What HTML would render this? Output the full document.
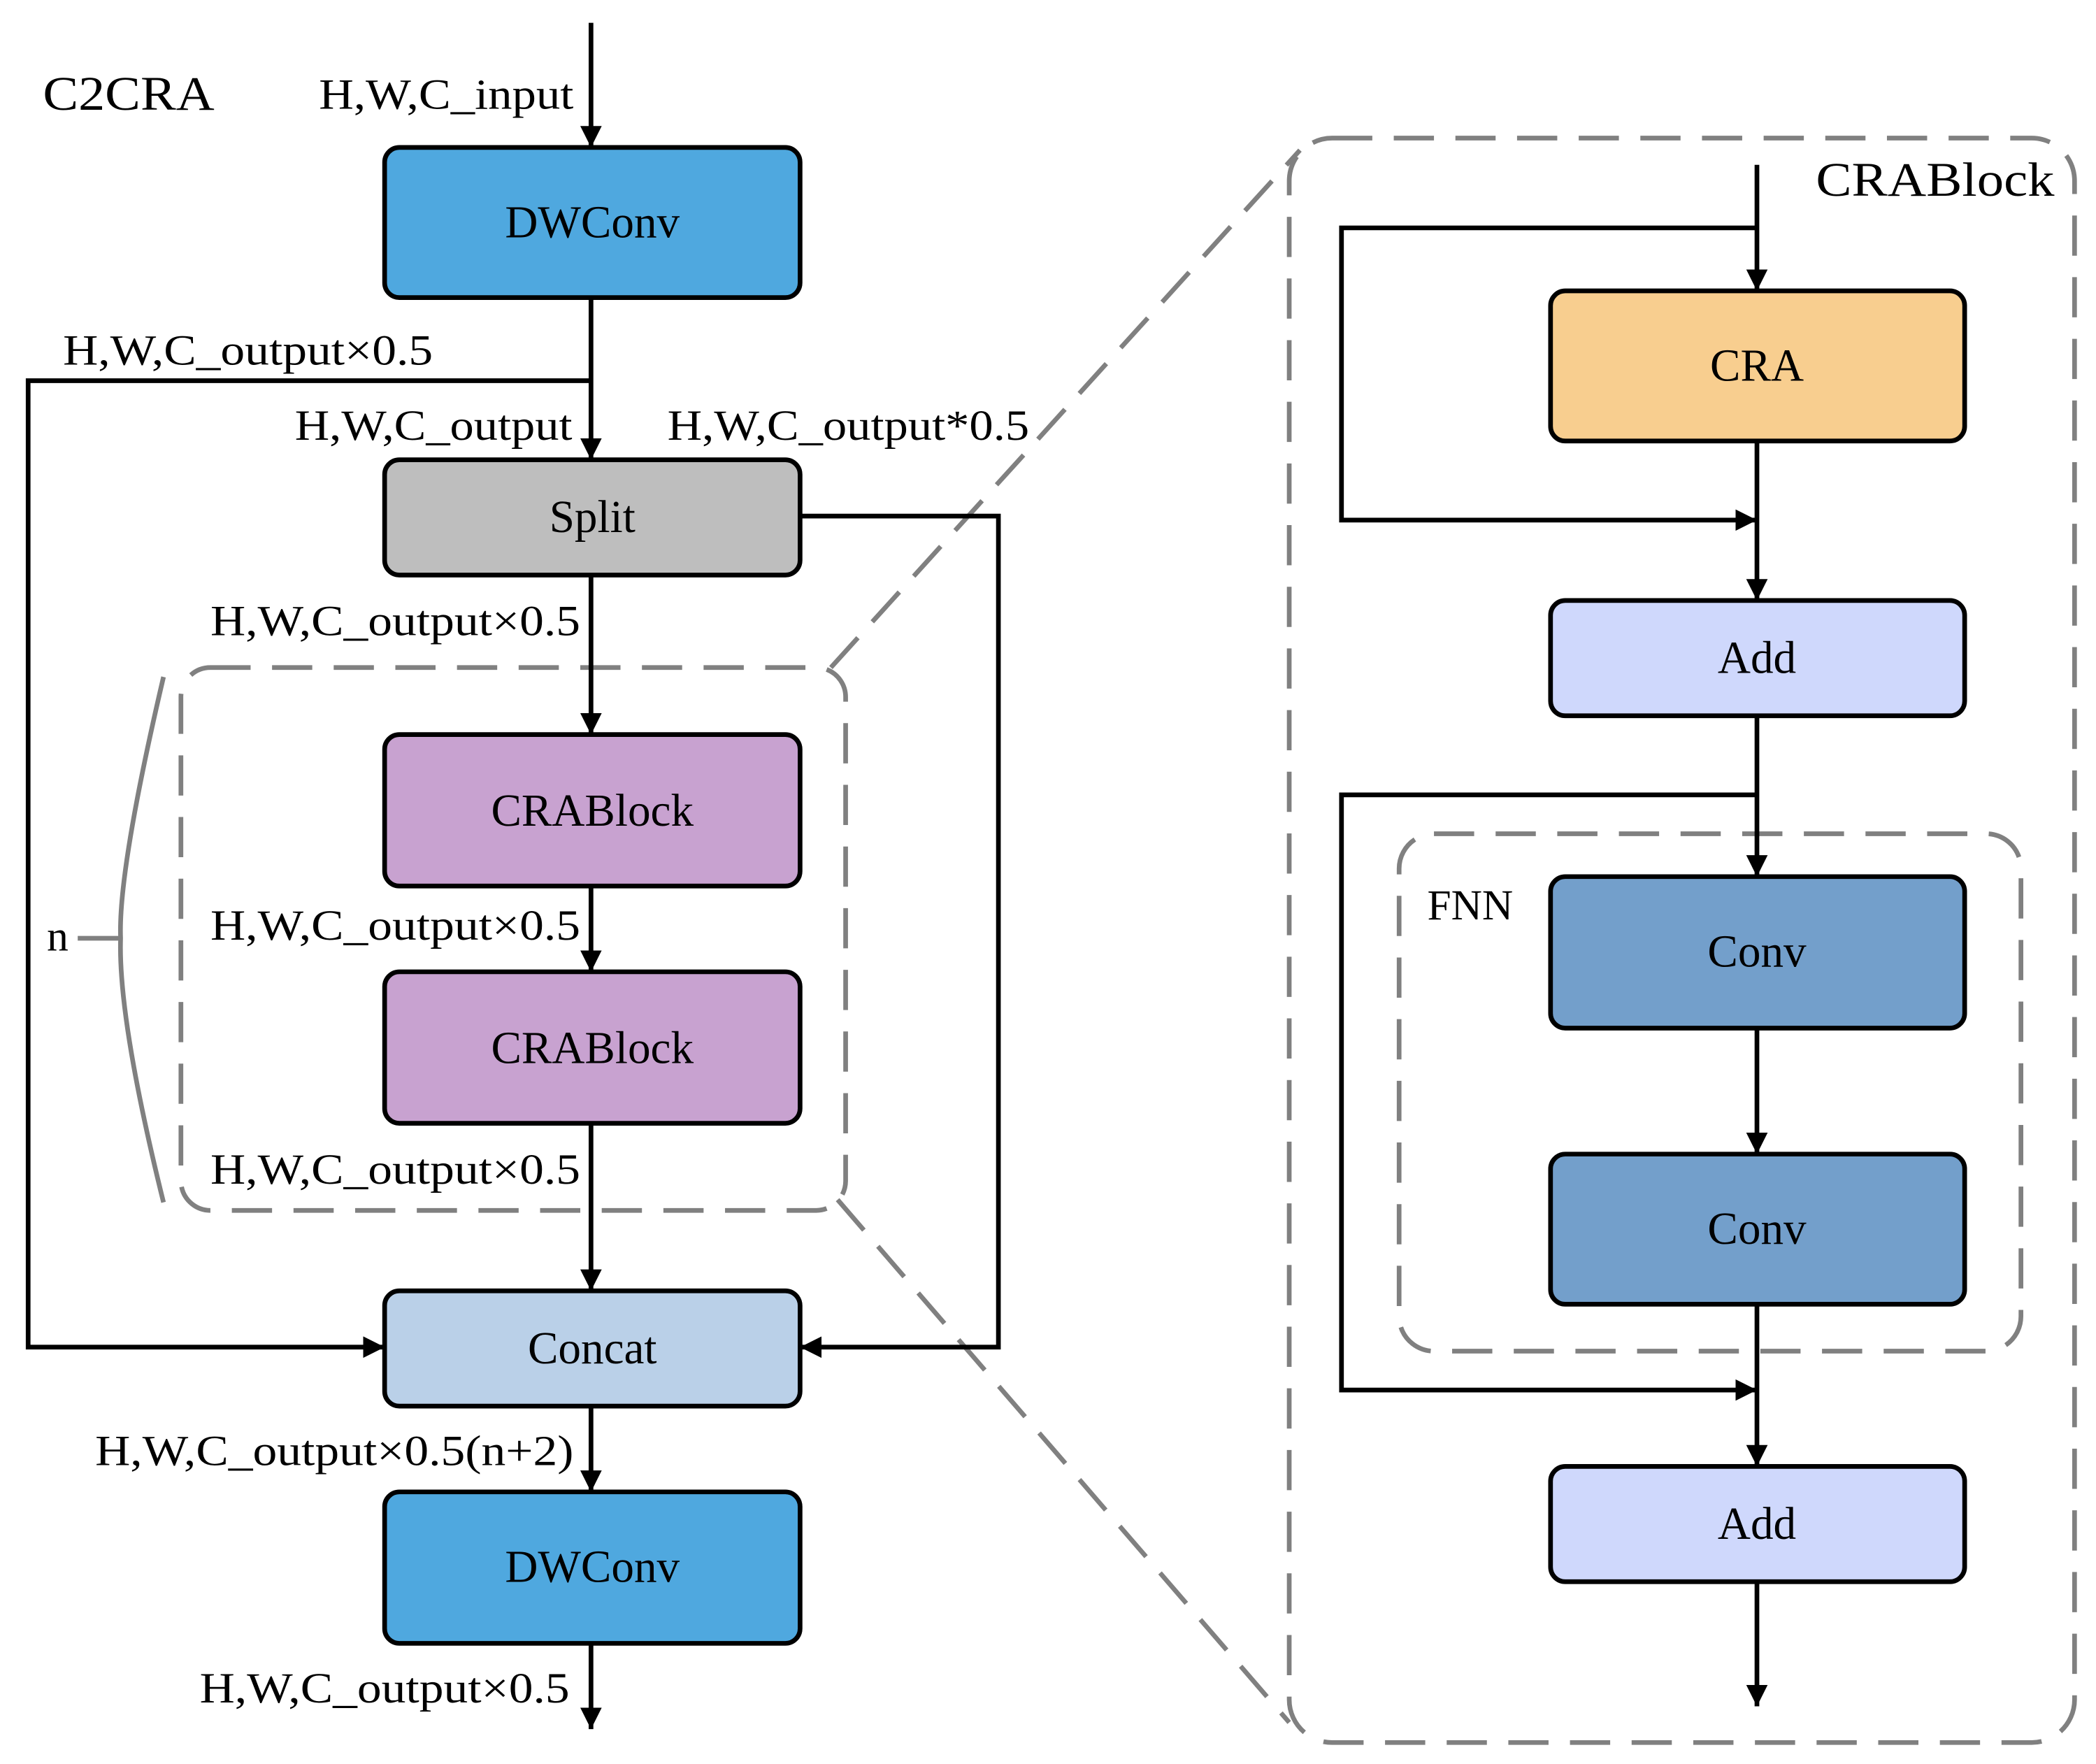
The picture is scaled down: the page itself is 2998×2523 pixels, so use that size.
<!DOCTYPE html>
<html><head><meta charset="utf-8"><style>html,body{margin:0;padding:0;background:#fff}svg{display:block}</style></head>
<body>
<svg width="2998" height="2523" viewBox="0 0 1564 1316" preserveAspectRatio="none" xmlns="http://www.w3.org/2000/svg" font-family="'Liberation Serif', serif">
<defs>
<marker id="a" viewBox="0 0 10 10" refX="10" refY="5" markerWidth="16" markerHeight="18" markerUnits="userSpaceOnUse" orient="auto"><path d="M0,0L10,5L0,10z" fill="#000"/></marker>
</defs>
<rect width="1564" height="1316" fill="#fff"/>
<g fill="none" stroke="#808080" stroke-width="3.5" stroke-dasharray="30,16">
<rect x="135" y="498" width="496" height="405" rx="22"/>
<line x1="620" y1="498" x2="970" y2="112"/>
<line x1="625" y1="895" x2="962" y2="1285"/>
<rect x="962" y="103" width="586" height="1197" rx="32"/>
<rect x="1044" y="622" width="464" height="386" rx="26"/>
</g>
<path d="M122,505 Q88,650 90,700 Q88,760 122,897" fill="none" stroke="#808080" stroke-width="3.5"/>
<line x1="58" y1="700" x2="90" y2="700" stroke="#808080" stroke-width="3.5"/>
<g fill="none" stroke="#000" stroke-width="3.5">
<line x1="441" y1="17" x2="441" y2="110" marker-end="url(#a)"/>
<line x1="441" y1="222" x2="441" y2="343" marker-end="url(#a)"/>
<polyline points="441,284 21,284 21,1005 287,1005" marker-end="url(#a)"/>
<polyline points="597,385 745,385 745,1005 597,1005" marker-end="url(#a)"/>
<line x1="441" y1="429" x2="441" y2="548" marker-end="url(#a)"/>
<line x1="441" y1="661" x2="441" y2="725" marker-end="url(#a)"/>
<line x1="441" y1="838" x2="441" y2="963" marker-end="url(#a)"/>
<line x1="441" y1="1049" x2="441" y2="1113" marker-end="url(#a)"/>
<line x1="441" y1="1226" x2="441" y2="1290" marker-end="url(#a)"/>
<line x1="1311" y1="123" x2="1311" y2="217" marker-end="url(#a)"/>
<polyline points="1311,170 1001,170 1001,388 1311,388" marker-end="url(#a)"/>
<line x1="1311" y1="329" x2="1311" y2="448" marker-end="url(#a)"/>
<line x1="1311" y1="534" x2="1311" y2="654" marker-end="url(#a)"/>
<polyline points="1311,593 1001,593 1001,1037 1311,1037" marker-end="url(#a)"/>
<line x1="1311" y1="767" x2="1311" y2="861" marker-end="url(#a)"/>
<line x1="1311" y1="973" x2="1311" y2="1094" marker-end="url(#a)"/>
<line x1="1311" y1="1180" x2="1311" y2="1273" marker-end="url(#a)"/>
</g>
<g stroke="#000" stroke-width="3.5">
<rect x="287" y="110" width="310" height="112" rx="11" fill="#4FA8DF"/>
<rect x="287" y="343" width="310" height="86" rx="11" fill="#BEBEBE"/>
<rect x="287" y="548" width="310" height="113" rx="11" fill="#C8A2D0"/>
<rect x="287" y="725" width="310" height="113" rx="11" fill="#C8A2D0"/>
<rect x="287" y="963" width="310" height="86" rx="11" fill="#BAD0E8"/>
<rect x="287" y="1113" width="310" height="113" rx="11" fill="#4FA8DF"/>
<rect x="1157" y="217" width="309" height="112" rx="11" fill="#F8CE8F"/>
<rect x="1157" y="448" width="309" height="86" rx="11" fill="#CFD8FC"/>
<rect x="1157" y="654" width="309" height="113" rx="11" fill="#739FCB"/>
<rect x="1157" y="861" width="309" height="112" rx="11" fill="#739FCB"/>
<rect x="1157" y="1094" width="309" height="86" rx="11" fill="#CFD8FC"/>
</g>
<g font-size="34" text-anchor="middle" fill="#000">
<text x="442" y="177">DWConv</text>
<text x="442" y="397">Split</text>
<text x="442" y="616">CRABlock</text>
<text x="442" y="793">CRABlock</text>
<text x="442" y="1017">Concat</text>
<text x="442" y="1180">DWConv</text>
<text x="1311" y="284">CRA</text>
<text x="1311" y="502">Add</text>
<text x="1311" y="721">Conv</text>
<text x="1311" y="928">Conv</text>
<text x="1311" y="1148">Add</text>
</g>
<g font-size="32" fill="#000">
<text x="32" y="82" textLength="128" lengthAdjust="spacingAndGlyphs" font-size="36">C2CRA</text>
<text x="238" y="81" textLength="190" lengthAdjust="spacingAndGlyphs">H,W,C_input</text>
<text x="47" y="272" textLength="276" lengthAdjust="spacingAndGlyphs">H,W,C_output×0.5</text>
<text x="220" y="328" textLength="207" lengthAdjust="spacingAndGlyphs">H,W,C_output</text>
<text x="498" y="328" textLength="270" lengthAdjust="spacingAndGlyphs">H,W,C_output*0.5</text>
<text x="157" y="474" textLength="276" lengthAdjust="spacingAndGlyphs">H,W,C_output×0.5</text>
<text x="157" y="701" textLength="276" lengthAdjust="spacingAndGlyphs">H,W,C_output×0.5</text>
<text x="157" y="883" textLength="276" lengthAdjust="spacingAndGlyphs">H,W,C_output×0.5</text>
<text x="71" y="1093" textLength="357" lengthAdjust="spacingAndGlyphs">H,W,C_output×0.5(n+2)</text>
<text x="149" y="1270" textLength="276" lengthAdjust="spacingAndGlyphs">H,W,C_output×0.5</text>
<text x="35" y="709">n</text>
<text x="1355" y="146" font-size="36" textLength="178" lengthAdjust="spacingAndGlyphs">CRABlock</text>
<text x="1065" y="686">FNN</text>
</g>
</svg>
</body></html>
